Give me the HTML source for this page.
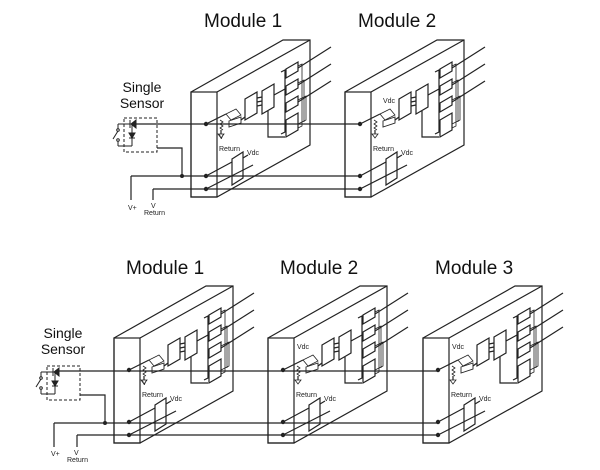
<!DOCTYPE html>
<html><head><style>
body{margin:0;background:#fff;}
svg{display:block;font-family:"Liberation Sans",Arial,sans-serif;}
</style></head><body>
<svg width="600" height="470" viewBox="0 0 600 470">
<defs>
<g id="mod" fill="none" stroke="#222" stroke-width="1.2">
  <polygon points="0,0 92,-52 119,-52 119,53 26,105 0,105" fill="#fff"/>
  <rect x="0" y="0" width="26" height="105"/>
  <line x1="26" y1="0" x2="119" y2="-52"/>
  <line x1="15" y1="32" x2="35" y2="22"/>
  <polyline points="35,22 45,17 50,23 40,28 35,22" stroke-width="0.8"/>
  <path d="M29,28 l3,2 -3,2 3,2 -3,2 3,2" stroke-width="0.8"/>
  <line x1="30" y1="38" x2="30" y2="42"/>
  <polygon points="27,42 33,42 30,46" stroke-width="0.8"/>
  <polygon points="38,29 50,25 50,31 38,35" stroke-width="0.9"/>
  <polygon points="54,7 66,0 66,21 54,28"/>
  <line x1="50" y1="28" x2="54" y2="25"/>
  <line x1="66" y1="6" x2="71" y2="5"/><line x1="66" y1="10" x2="71" y2="9"/><line x1="66" y1="14" x2="71" y2="13"/>
  <polygon points="71,-1 83,-8 83,15 71,22"/>
  <line x1="83" y1="3" x2="94" y2="-3"/>
  <polyline points="77,19 77,45 94,45"/>
  <polyline points="90,-20 94,-22 94,40 90,42" />
  <polygon points="95,-23 107,-30 107,-21 95,-14"/>
  <polygon points="95,-6 107,-13 107,-4 95,3"/>
  <polygon points="95,11 107,4 107,13 95,20"/>
  <polygon points="95,28 107,21 107,38 95,45"/>
  <polyline points="107,-26 111,-28 111,34 107,36" stroke-width="0.8"/>
  <polyline points="107,-9 113,-12 113,30" stroke-width="0.8"/>
  <polyline points="107,8 115,4 115,28 107,32" stroke-width="0.8"/>
  <line x1="107" y1="-24" x2="140" y2="-45"/>
  <line x1="107" y1="-7" x2="140" y2="-28"/>
  <line x1="107" y1="10" x2="140" y2="-11"/>
  <polygon points="41,67 52,60 52,86 41,93"/>
  <line x1="15" y1="84" x2="41" y2="70"/>
  <line x1="15" y1="97" x2="62" y2="73"/>
  <line x1="52" y1="66" x2="57" y2="63"/>
  <circle cx="15" cy="32" r="2.2" fill="#222" stroke="none"/>
  <circle cx="15" cy="84" r="2.2" fill="#222" stroke="none"/>
  <circle cx="15" cy="97" r="2.2" fill="#222" stroke="none"/>
</g>
<g id="sensor" fill="none" stroke="#222" stroke-width="1">
  <rect x="0" y="0" width="33" height="34" stroke-dasharray="3,2"/>
  <polygon points="12,2 12,10 7,6" fill="#222"/><line x1="6" y1="2" x2="6" y2="10"/>
  <line x1="8" y1="6" x2="8" y2="28"/>
  <polygon points="5,15 11,15 8,20" fill="#222"/><line x1="5" y1="20" x2="11" y2="20"/>
  <line x1="-6" y1="6" x2="8" y2="6"/><line x1="-6" y1="28" x2="8" y2="28"/>
  <line x1="-6" y1="6" x2="-6" y2="12"/><line x1="-6" y1="22" x2="-6" y2="28"/>
  <line x1="-6" y1="13" x2="-11" y2="21"/>
  <circle cx="-6" cy="12" r="1.3" fill="#fff"/><circle cx="-6" cy="22" r="1.3" fill="#fff"/>
</g>
</defs>

<g font-size="19" fill="#111">
<text x="204" y="27">Module 1</text>
<text x="358" y="27">Module 2</text>
<text x="126" y="274">Module 1</text>
<text x="280" y="274">Module 2</text>
<text x="435" y="274">Module 3</text>
</g>
<g font-size="14" fill="#111" text-anchor="middle">
<text x="142" y="92">Single</text><text x="142" y="108">Sensor</text>
<text x="63" y="338">Single</text><text x="63" y="354">Sensor</text>
</g>

<use href="#mod" x="191" y="92"/>
<use href="#mod" x="345" y="92"/>
<use href="#sensor" x="124" y="118"/>
<g fill="none" stroke="#222" stroke-width="1.2">
<line x1="132" y1="124" x2="360" y2="124"/>
<polyline points="157,148 182,148 182,176"/>
<line x1="131" y1="176" x2="360" y2="176"/>
<line x1="131" y1="176" x2="131" y2="200"/>
<line x1="153" y1="189" x2="360" y2="189"/>
<line x1="153" y1="189" x2="153" y2="200"/>
</g>
<circle cx="182" cy="176" r="2" fill="#222"/>

<use href="#mod" x="114" y="338"/>
<use href="#mod" x="268" y="338"/>
<use href="#mod" x="423" y="338"/>
<use href="#sensor" x="47" y="366"/>
<g fill="none" stroke="#222" stroke-width="1.2">
<line x1="55" y1="371" x2="438" y2="371"/>
<polyline points="80,395 105,395 105,423"/>
<line x1="54" y1="423" x2="438" y2="423"/>
<line x1="54" y1="423" x2="54" y2="447"/>
<line x1="77" y1="435" x2="438" y2="435"/>
<line x1="77" y1="435" x2="77" y2="447"/>
</g>
<circle cx="105" cy="423" r="2" fill="#222"/>

<g font-size="7" fill="#222">
<text x="128" y="210">V+</text><text x="151" y="208">V</text><text x="144" y="215">Return</text>
<text x="219" y="139">V</text><text x="219" y="151">Return</text><text x="247" y="155">Vdc</text>
<text x="383" y="103">Vdc</text><text x="373" y="151">Return</text><text x="401" y="155">Vdc</text>
<text x="51" y="456">V+</text><text x="74" y="455">V</text><text x="67" y="462">Return</text>
<text x="142" y="385">V</text><text x="142" y="397">Return</text><text x="170" y="401">Vdc</text>
<text x="297" y="349">Vdc</text><text x="296" y="397">Return</text><text x="324" y="401">Vdc</text>
<text x="452" y="349">Vdc</text><text x="451" y="397">Return</text><text x="479" y="401">Vdc</text>
</g>
</svg>
</body></html>
